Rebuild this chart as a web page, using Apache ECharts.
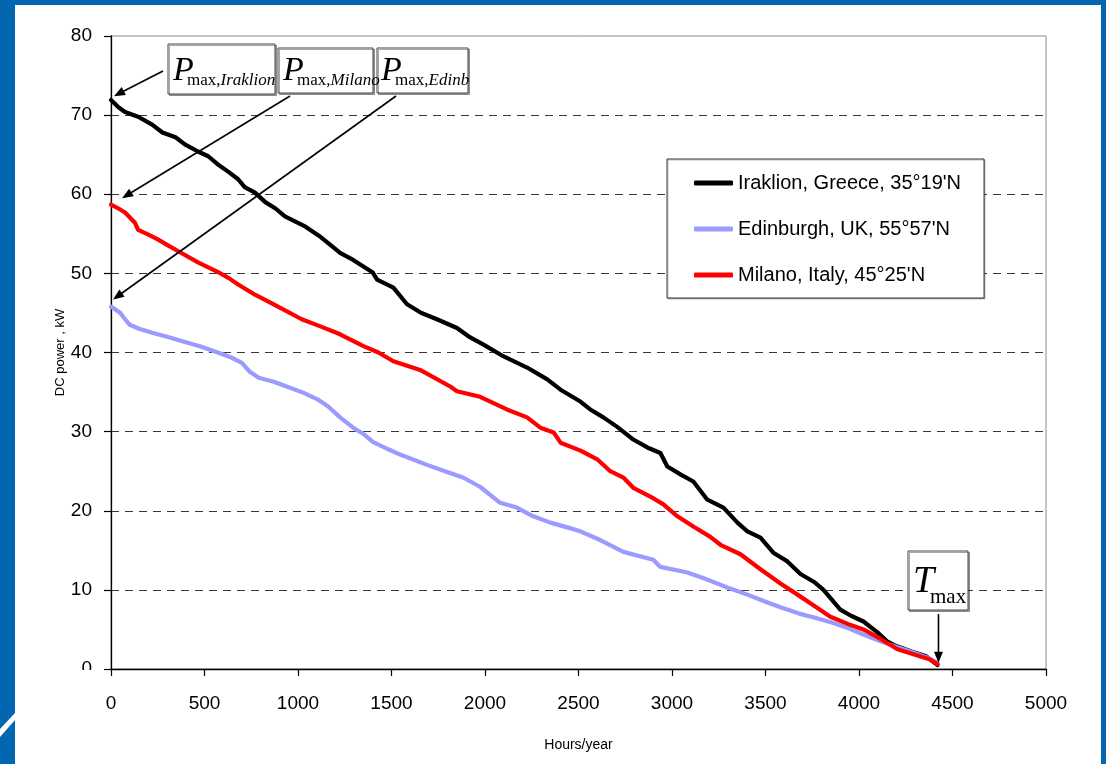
<!DOCTYPE html>
<html>
<head>
<meta charset="utf-8">
<script src="https://cdn.jsdelivr.net/npm/echarts@6/dist/echarts.min.js"></script>
<style>
  html,body{margin:0;padding:0;width:1106px;height:764px;overflow:hidden;background:#0366b0;}
  #panel{position:absolute;left:15px;top:5px;width:1086px;height:759px;background:#fff;}
  #deco{position:absolute;left:0;top:0;}
  #main{position:absolute;left:0;top:0;width:1106px;height:764px;}
</style>
</head>
<body>
<div id="panel"></div>
<svg id="deco" width="1106" height="764"><polygon points="0,729 15,713 15,720 0,737" fill="#fff"/></svg>
<div id="main"></div>
<script>
// ---- data (hours/year, DC power kW) ----
const seriesNames = ['Iraklion, Greece, 35°19\'N', 'Edinburgh, UK, 55°57\'N', 'Milano, Italy, 45°25\'N'];
const xTicks = [0, 500, 1000, 1500, 2000, 2500, 3000, 3500, 4000, 4500, 5000];
const yTicks = [0, 10, 20, 30, 40, 50, 60, 70, 80];

const irHours = [0,10,40,75,145,220,275,345,395,465,520,570,630,680,715,770,825,880,930,1040,1110,1183,1225,1295,1400,1423,1510,1583,1660,1743,1850,1921,1992,2100,2225,2333,2404,2510,2563,2633,2707,2793,2868,2938,2975,3045,3114,3189,3275,3350,3403,3473,3542,3617,3687,3760,3810,3900,3960,4024,4100,4150,4200,4280,4360,4420];
const irPower = [71.9,71.7,71.0,70.4,69.8,68.8,67.8,67.2,66.3,65.4,64.8,63.8,62.8,61.9,60.9,60.2,59.0,58.2,57.2,55.9,54.8,53.4,52.6,51.7,50.1,49.2,48.2,46.1,45.0,44.2,43.1,41.9,41.0,39.5,38.1,36.6,35.3,33.8,32.8,31.8,30.6,29.0,28.0,27.3,25.6,24.6,23.7,21.4,20.4,18.5,17.4,16.6,14.7,13.6,12.0,11.0,10.0,7.5,6.7,6.0,4.6,3.5,2.9,2.2,1.6,0.5];

const edHours = [0,20,50,75,100,150,220,300,400,475,560,640,700,740,790,870,950,1030,1110,1160,1225,1295,1350,1400,1480,1546,1690,1797,1883,1975,2081,2170,2258,2350,2440,2510,2616,2740,2900,2938,3082,3189,3296,3403,3500,3580,3680,3760,3850,3937,4030,4115,4200,4290,4360,4420];
const edPower = [45.8,45.5,45.0,44.2,43.5,43.0,42.5,42.0,41.3,40.8,40.1,39.4,38.7,37.6,36.8,36.3,35.6,34.9,34.0,33.2,31.8,30.5,29.7,28.7,27.8,27.1,25.8,24.9,24.2,23.0,21.0,20.4,19.3,18.5,17.9,17.4,16.3,14.8,13.8,12.9,12.2,11.3,10.3,9.4,8.5,7.8,7.0,6.5,5.9,5.2,4.3,3.5,2.8,2.1,1.5,0.8];

const miHours = [0,10,40,75,128,145,200,250,300,360,465,570,630,680,770,893,1020,1120,1225,1350,1430,1510,1653,1814,1850,1974,2117,2225,2296,2367,2404,2511,2600,2670,2740,2793,2884,2954,3029,3114,3205,3259,3366,3473,3580,3671,3760,3847,3940,4024,4115,4206,4300,4380,4420];
const miPower = [58.7,58.6,58.2,57.7,56.4,55.5,54.9,54.3,53.6,52.8,51.4,50.2,49.4,48.6,47.3,45.8,44.2,43.3,42.3,40.8,40.0,38.9,37.8,35.7,35.1,34.4,32.8,31.8,30.5,29.9,28.6,27.6,26.5,25.0,24.2,22.9,21.8,20.8,19.3,18.0,16.7,15.7,14.5,12.6,10.8,9.4,8.0,6.6,5.7,5.0,3.8,2.5,1.8,1.2,0.6];

// annotation targets (data coords)
const pmaxTargets = [[16, 72.4], [59, 59.5], [11, 46.7]];
const tmaxTarget = [4425, 0.8];

const zip = (a, b) => a.map((v, i) => [v, b[i]]);

const SANS = 'Liberation Sans, Arial, sans-serif';
const SERIF = 'Liberation Serif, Times New Roman, serif';

function lineSeries(name, data, color, width) {
  return {
    name: name, type: 'line', data: data, symbol: 'none', showSymbol: false, smooth: false,
    lineStyle: { color: color, width: width, join: 'round', cap: 'round' },
    itemStyle: { color: color },
    emphasis: { disabled: true }, animation: false
  };
}

const option = {
  animation: false,
  backgroundColor: 'transparent',
  grid: { left: 111, right: 60, top: 36, bottom: 95, show: true, borderColor: '#8a8a8a', borderWidth: 1, backgroundColor: 'transparent' },
  legend: {
    orient: 'vertical', left: 667, top: 159,
    padding: [14, 23, 13, 27], itemGap: 26, itemWidth: 39, itemHeight: 5,
    icon: 'roundRect',
    borderColor: '#333', borderWidth: 1, backgroundColor: '#fff',
    shadowColor: 'rgba(0,0,0,0.25)', shadowOffsetX: 1, shadowOffsetY: 1, shadowBlur: 0,
    textStyle: { fontSize: 20, fontFamily: SANS, color: '#000', lineHeight: 20 },
    selectedMode: false,
    data: seriesNames
  },
  xAxis: {
    type: 'value', min: 0, max: 5000, interval: 500,
    name: 'Hours/year', nameLocation: 'middle', nameGap: 69, nameMoveOverlap: false,
    nameTextStyle: { fontSize: 14, fontFamily: SANS, color: '#000' },
    axisLine: { show: true, onZero: false, lineStyle: { color: '#000', width: 1.3 } },
    axisTick: { show: true, length: 7, lineStyle: { color: '#000', width: 1.2 } },
    axisLabel: { fontSize: 19, fontFamily: SANS, color: '#000', margin: 25,
      formatter: v => xTicks.includes(v) ? String(v) : '' },
    splitLine: { show: false }
  },
  yAxis: {
    type: 'value', min: 0, max: 80, interval: 10,
    name: 'DC power , kW', nameLocation: 'middle', nameGap: 44, nameMoveOverlap: false,
    nameTextStyle: { fontSize: 13, fontFamily: SANS, color: '#000' },
    axisLine: { show: true, lineStyle: { color: '#000', width: 1.3 } },
    axisTick: { show: true, length: 7, lineStyle: { color: '#000', width: 1.2 } },
    axisLabel: { fontSize: 19, fontFamily: SANS, color: '#000', margin: 19,
      formatter: v => yTicks.includes(v) ? String(v) : '' },
    splitLine: { show: true, showMinLine: false, showMaxLine: false,
      lineStyle: { color: '#3a3a3a', width: 1, type: [8, 6] } }
  },
  series: [
    lineSeries(seriesNames[0], zip(irHours, irPower), '#000000', 4.2),
    lineSeries(seriesNames[1], zip(edHours, edPower), '#9a9aff', 4.2),
    lineSeries(seriesNames[2], zip(miHours, miPower), '#ff0000', 4.2)
  ]
};

const chart = echarts.init(document.getElementById('main'));
chart.setOption(option);

function px(pt) { return chart.convertToPixel({ gridIndex: 0 }, pt); }

function arrow(from, to) {
  const dx = to[0] - from[0], dy = to[1] - from[1];
  const L = Math.hypot(dx, dy), ux = dx / L, uy = dy / L;
  const hl = 11, hw = 4.5;
  const bx = to[0] - ux * hl, by = to[1] - uy * hl;
  return [
    { type: 'line', z: 100, shape: { x1: from[0], y1: from[1], x2: bx + ux * 2, y2: by + uy * 2 },
      style: { stroke: '#000', lineWidth: 1.6 } },
    { type: 'polygon', z: 100, shape: { points: [to, [bx - uy * hw, by + ux * hw], [bx + uy * hw, by - ux * hw]] },
      style: { fill: '#000' } }
  ];
}

function box(x, y, w, h) {
  return { type: 'rect', z: 99, shape: { x: x, y: y, width: w, height: h },
    style: { fill: '#fff', stroke: '#444', lineWidth: 1,
      shadowColor: 'rgba(0,0,0,0.35)', shadowOffsetX: 1.5, shadowOffsetY: 1.5, shadowBlur: 0 } };
}

// big italic letter, y = vertical middle of the capital
function bigLetter(ch, x, midY, size) {
  return { type: 'text', z: 101, x: x, y: midY,
    style: { text: ch, fontFamily: SERIF, fontStyle: 'italic', fontSize: size, fill: '#000',
      align: 'left', verticalAlign: 'middle' } };
}

// subscript, y = bottom of text box
function sub(x, bottomY, roman, ital, size) {
  return { type: 'text', z: 101, x: x, y: bottomY,
    style: {
      text: '{r|' + roman + '}' + (ital ? '{i|' + ital + '}' : ''),
      align: 'left', verticalAlign: 'bottom',
      rich: {
        r: { fontFamily: SERIF, fontSize: size, fill: '#000', lineHeight: size },
        i: { fontFamily: SERIF, fontStyle: 'italic', fontSize: size, fill: '#000', lineHeight: size }
      }
    } };
}

const g = [];
// P_max boxes
g.push(box(168, 44, 107, 50));
g.push(box(278, 48, 95, 45));
g.push(box(377, 48, 91, 45));
g.push(bigLetter('P', 173, 71, 34));
g.push(sub(187, 89, 'max,', 'Iraklion', 17));
g.push(bigLetter('P', 283, 71, 34));
g.push(sub(297, 89, 'max,', 'Milano', 17));
g.push(bigLetter('P', 381, 71, 34));
g.push(sub(395, 89, 'max,', 'Edinb', 17));
// T_max box
g.push(box(908, 551, 60, 59));
g.push(bigLetter('T', 913, 582, 38));
g.push(sub(930, 608, 'max', '', 21));
// arrows
g.push(...arrow([163, 71], px(pmaxTargets[0])));
g.push(...arrow([290, 96], px(pmaxTargets[1])));
g.push(...arrow([396, 96], px(pmaxTargets[2])));
const tt = px(tmaxTarget);
g.push(...arrow([tt[0], 614], tt));
// partially hidden "0" on the y axis
g.push({ type: 'rect', z: 120, shape: { x: 70, y: 670, width: 33, height: 20 }, style: { fill: '#fff' } });

chart.setOption({ graphic: { elements: g } });
</script>
</body>
</html>
